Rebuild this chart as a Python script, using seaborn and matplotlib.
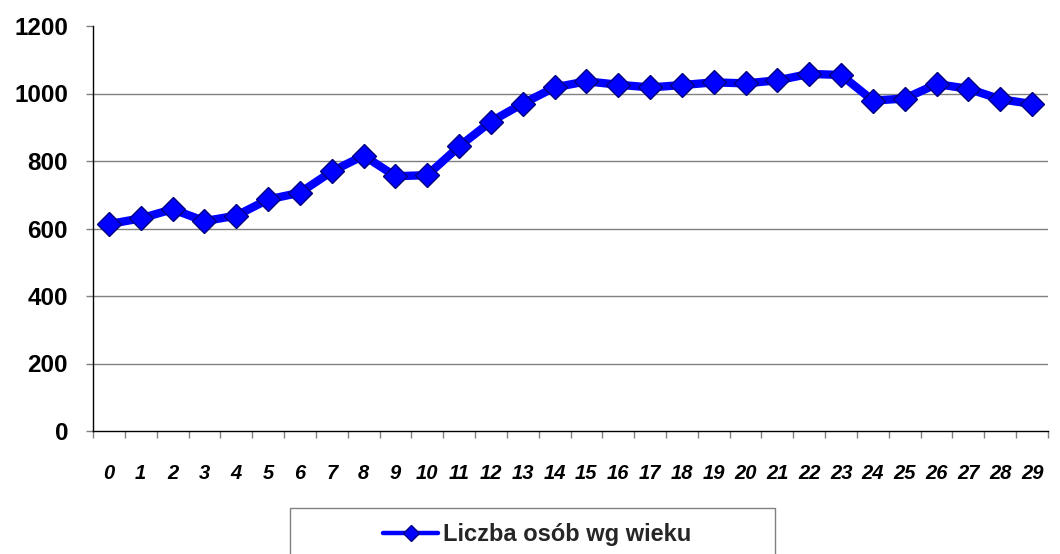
import matplotlib
matplotlib.use("Agg")
import matplotlib.pyplot as plt
import seaborn as sns
import pandas as pd
import numpy as np
from matplotlib.patches import Rectangle

ages = list(range(30))
age_labels = [str(a) for a in ages]
counts = [613, 630, 657, 622, 638, 686, 706, 769, 816, 755,
          758, 843, 917, 970, 1018, 1036, 1026, 1018, 1025, 1033,
          1030, 1039, 1058, 1055, 979, 985, 1028, 1014, 983, 969]
series_name = "Liczba osób wg wieku"
y_ticks = [0, 200, 400, 600, 800, 1000, 1200]

sns.set_theme(style="white")
plt.rcParams['font.family'] = ['Liberation Sans', 'DejaVu Sans']

df = pd.DataFrame({"age": ages, "count": counts, "series": series_name})

fig = plt.figure(figsize=(10.6, 5.54), dpi=100)
ax = fig.add_axes([93/1060, 1 - 431/554, (1048-93)/1060, (431-26)/554])

sns.lineplot(data=df, x="age", y="count", hue="series", palette=["#0000FF"],
             marker="D", markersize=12.5, markerfacecolor="#0000FF",
             markeredgecolor="#000080", markeredgewidth=1.0,
             linewidth=6, ax=ax, legend=True)

ax.set_xlim(-0.5, 29.5)
ax.set_ylim(0, 1200)
ax.set_xlabel("")
ax.set_ylabel("")

ax.set_yticks(y_ticks)
ax.set_yticklabels([str(v) for v in y_ticks], fontsize=17.5, fontweight="bold")
ax.set_xticks(ages)
ax.set_xticklabels(age_labels, fontsize=14.5, fontweight="bold", fontstyle="italic")
ax.set_xticks(np.arange(-0.5, 30, 1), minor=True)

ax.tick_params(axis="y", which="major", length=5, width=1, color="#808080",
               pad=13, left=True, labelcolor="black")
ax.tick_params(axis="x", which="major", length=0, pad=24, labelcolor="black")
ax.tick_params(axis="x", which="minor", length=5, width=1, color="#808080",
               bottom=True, direction="out")

ax.yaxis.grid(True, color="#808080", linewidth=1)
ax.xaxis.grid(False)
ax.get_ygridlines()[-1].set_visible(False)
ax.get_ygridlines()[0].set_visible(False)
ax.set_axisbelow(True)

for s in ["top", "right"]:
    ax.spines[s].set_visible(False)
for s in ["left", "bottom"]:
    ax.spines[s].set_color("black")
    ax.spines[s].set_linewidth(1)

# legend
leg = ax.get_legend()
handles, labels = ax.get_legend_handles_labels()
leg.remove()
leg = fig.legend(handles, labels, loc="center", bbox_to_anchor=(537/1060, 1 - 535/554),
                 frameon=False, prop={"weight": "bold", "size": 17},
                 handlelength=2.35, handletextpad=0.2, borderpad=0.1)
for ln in leg.get_lines():
    ln.set_linewidth(3.2)
    ln.set_markersize(8.5)
fig.patches.append(Rectangle((290/1060, -0.05), (775-290)/1060, 0.05 + (1 - 508/554),
                             transform=fig.transFigure, fill=False,
                             edgecolor="#808080", linewidth=1))

fig.savefig("out.png", dpi=100)
